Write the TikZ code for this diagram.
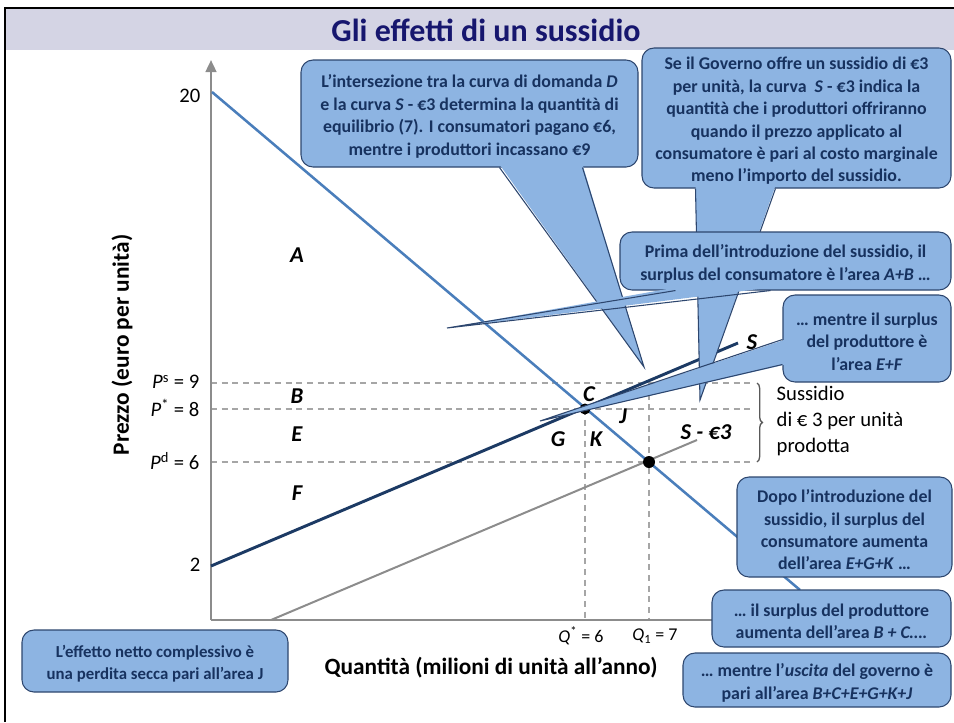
\documentclass[tikz,border=0pt]{standalone}
\usepackage{fontspec}
\setmainfont{Carlito}
\usetikzlibrary{arrows.meta,calc,fit,decorations.pathreplacing}

\definecolor{barfill}{RGB}{212,212,228}
\definecolor{titleblue}{RGB}{22,22,110}
\definecolor{callfill}{RGB}{141,180,226}
\definecolor{calledge}{RGB}{45,70,110}
\definecolor{calltext}{RGB}{23,50,95}
\definecolor{demandblue}{RGB}{74,126,187}
\definecolor{supplynavy}{RGB}{28,58,100}
\definecolor{axisgray}{RGB}{140,140,140}
\definecolor{dashgray}{RGB}{166,166,166}

\tikzset{
  callbox/.style={draw=calledge, line width=0.8pt, fill=callfill, rounded corners=9pt, inner sep=0pt},
  calltxt/.style={inner sep=0pt, text=calltext, align=center, yshift=-2.2pt,
    font=\fontsize{13.4}{16.8}\selectfont\bfseries},
  tailedge/.style={draw=calledge, line width=0.8pt},
  arealab/.style={font=\fontsize{17}{19}\selectfont\bfseries\itshape},
  ticklab/.style={font=\fontsize{15.5}{18}\selectfont, anchor=east},
  qlab/.style={font=\fontsize{13.5}{15}\selectfont},
  axtitle/.style={font=\fontsize{17.5}{20}\selectfont\bfseries},
  guideline/.style={dashgray, line width=1.1pt, dash pattern=on 4.5pt off 3.5pt},
}

\begin{document}
\begin{tikzpicture}[x=0.75pt, y=-0.75pt]
  \useasboundingbox (0,0) rectangle (954,722);
  \fill[barfill] (5,8) rectangle (954,50);
  \draw[line width=2pt] (5,722) -- (5,8) -- (954,8);
  \node[font=\fontsize{24}{28}\selectfont\bfseries, text=titleblue] (title) at (486,30) {Gli effetti di un sussidio};

  \coordinate (O) at (211,620);
  \draw[guideline] (211,383) -- (750,383);
  \draw[guideline] (211,409) -- (750,409);
  \draw[guideline] (211,462) -- (750,462);
  \draw[guideline] (585,409) -- (585,620);
  \draw[guideline] (649,383) -- (649,620);
  \draw[axisgray, line width=1.8pt, -{Triangle[length=9pt,width=8pt]}] (O) -- (211,60);
  \draw[axisgray, line width=1.8pt, -{Triangle[length=9pt,width=8pt]}] (O) -- (770,620);

  \coordinate (d0) at (212,92);
  \coordinate (d1) at (800,590);
  \coordinate (s0) at (211,566);
  \coordinate (s1) at (738,343);
  \coordinate (t0) at (271,620);
  \coordinate (t1) at (697,440);
  \draw[demandblue, line width=1.9pt] (d0) -- (d1);
  \draw[axisgray, line width=1.5pt] (t0) -- (t1);
  \draw[supplynavy, line width=2.2pt] (s0) -- (s1);
  \fill (585,409) circle [radius=5.5];
  \fill (649,462) circle [radius=6];

  \node[ticklab] (p20) at (205,96) {20};
  \node[ticklab] (p2) at (205,565) {2};
  \node[ticklab] (ps) at (204,382) {\textit{P}\textsuperscript{s} = 9};
  \node[ticklab] (pstar) at (204,408) {\textit{P}\textsuperscript{*} = 8};
  \node[ticklab] (pd) at (204,461) {\textit{P}\textsuperscript{d} = 6};
  \node[qlab] (qstar) at (581,636) {\textit{Q}\textsuperscript{*} = 6};
  \node[qlab] (qone) at (655,636) {\textit{Q}\textsubscript{1} = 7};
  \node[axtitle, rotate=90] (ylab) at (122,345) {Prezzo (euro per unità)};
  \node[axtitle] (xlab) at (491,668) {Quantità (milioni di unità all’anno)};

  \node[arealab] (A) at (297,255) {A};
  \node[arealab] (B) at (297,396) {B};
  \node[arealab] (E) at (297,434) {E};
  \node[arealab] (F) at (297,493) {F};
  \node[arealab] (C) at (589,394) {C};
  \node[arealab] (J) at (623,416) {J};
  \node[arealab] (G) at (558,439) {G};
  \node[arealab] (K) at (596,439) {K};
  \node[arealab] (Slab) at (752,342) {S};
  \node[arealab] (Stlab) at (706,432) {S - €3};

  \draw[black!65, line width=1pt, decorate, decoration={brace, amplitude=4pt}] (757,383) -- (757,462);
  \node[anchor=west, align=left, font=\fontsize{15.5}{19.5}\selectfont] (sub) at (772,421) {Sussidio\\di € 3 per unità\\prodotta};

  \node[callbox, fit={(301,60) (638,167)}] (c1) {};
  \node[calltxt] (c1t) at (c1) {L’intersezione tra la curva di domanda \textit{D}\\e la curva \textit{S} - €3 determina la quantità di\\equilibrio (7). I consumatori pagano €6,\\mentre i produttori incassano €9};
  \coordinate (c1tip) at (644,367);
  \fill[callfill] ($(c1.south)+(30,-3)$) -- (c1tip) -- ($(c1.south)+(113,-3)$) -- cycle;
  \draw[tailedge] ($(c1.south)+(30,0)$) -- (c1tip) -- ($(c1.south)+(113,0)$);

  \node[callbox, fit={(642,48) (951,188)}] (c2) {};
  \node[calltxt] (c2t) at (c2) {Se il Governo offre un sussidio di €3\\per unità, la curva \ \textit{S} - €3 indica la\\quantità che i produttori offriranno\\quando il prezzo applicato al\\consumatore è pari al costo marginale\\meno l’importo del sussidio.};
  \coordinate (c2tip) at (700,400);
  \fill[callfill] ($(c2.south)+(-101,-3)$) -- (c2tip) -- ($(c2.south)+(-21,-3)$) -- cycle;
  \draw[tailedge] ($(c2.south)+(-101,0)$) -- (c2tip) -- ($(c2.south)+(-21,0)$);

  \node[callbox, fit={(620,232) (951,290)}] (c3) {};
  \node[calltxt] (c3t) at (c3) {Prima dell’introduzione del sussidio, il\\surplus del consumatore è l’area \textit{A+B} …};
  \coordinate (c3tip) at (447,328);
  \fill[callfill] ($(c3.south)+(-110,-3)$) -- (c3tip) -- ($(c3.south)+(-15,-3)$) -- cycle;
  \draw[tailedge] ($(c3.south)+(-110,0)$) -- (c3tip) -- ($(c3.south)+(-15,0)$);

  \node[callbox, fit={(783,295) (951,382)}] (c4) {};
  \node[calltxt] (c4t) at (c4) {… mentre il surplus\\del produttore è\\l’area \textit{E+F}};
  \coordinate (c4tip) at (540,421);
  \fill[callfill] ($(c4.west)+(3,1)$) -- (c4tip) -- ($(c4.west)+(3,26)$) -- cycle;
  \draw[tailedge] ($(c4.west)+(0,1)$) -- (c4tip) -- ($(c4.west)+(0,26)$);

  \node[callbox, fit={(737,477) (952,577)}] (c5) {};
  \node[calltxt] (c5t) at (c5) {Dopo l’introduzione del\\sussidio, il surplus del\\consumatore aumenta\\dell’area \textit{E+G+K} …};
  \node[callbox, fit={(712,590) (951,647)}] (c6) {};
  \node[calltxt] (c6t) at (c6) {… il surplus del produttore\\aumenta dell’area \textit{B + C….}};
  \node[callbox, fit={(683,653) (951,707)}] (c7) {};
  \node[calltxt] (c7t) at (c7) {… mentre l’\textit{uscita} del governo è\\pari all’area \textit{B+C+E+G+K+J}};
  \node[callbox, fit={(22,630) (288,692)}] (c8) {};
  \node[calltxt, font=\fontsize{12.6}{16.5}\selectfont\bfseries] (c8t) at (c8) {L’effetto netto complessivo è\\una perdita secca pari all’area J};
\end{tikzpicture}
\end{document}
